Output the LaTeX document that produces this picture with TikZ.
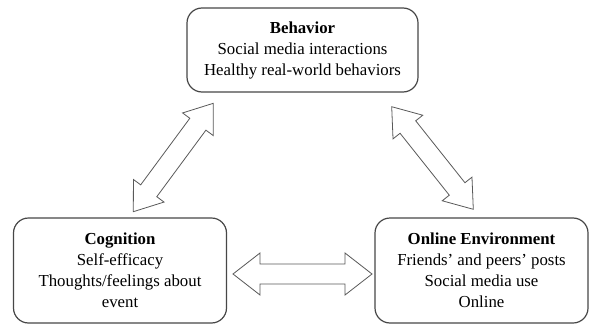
\documentclass[tikz,border=0pt]{standalone}
\usepackage{fontspec}
\setmainfont{Liberation Serif}
\usetikzlibrary{calc}

% outlined two-way block arrow between two named points
\newcommand\twowayarrow[2]{%
  \draw[blockarrow]
    (#1) -- ($(#1)!\hl!(#2)!\hw!90:(#2)$) -- ($(#1)!\hl!(#2)!\sw!90:(#2)$)
    -- ($(#2)!\hl!(#1)!\sw!-90:(#1)$) -- ($(#2)!\hl!(#1)!\hw!-90:(#1)$)
    -- (#2)
    -- ($(#2)!\hl!(#1)!\hw!90:(#1)$) -- ($(#2)!\hl!(#1)!\sw!90:(#1)$)
    -- ($(#1)!\hl!(#2)!\sw!-90:(#2)$) -- ($(#1)!\hl!(#2)!\hw!-90:(#2)$)
    -- cycle;}
\def\hl{26pt}
\def\hw{19pt}
\def\sw{10pt}

\tikzset{
  factor/.style={draw=black!72, line width=1.2pt, rounded corners=15pt,
    fill=white, align=center, inner sep=0pt,
    font=\fontsize{16.8}{21}\selectfont},
  blockarrow/.style={draw=black!65, line width=0.8pt, fill=white,
    line join=miter}
}

\begin{document}
\begin{tikzpicture}[x=1pt,y=-1pt]
  \useasboundingbox (0,0) rectangle (589,324);

  \node[factor, minimum width=231pt, minimum height=84pt] (behavior) at (302.5,50)
    {\textbf{Behavior}\\Social media interactions\\Healthy real-world behaviors};
  \node[factor, minimum width=213pt, minimum height=105pt] (cognition) at (120,270.5)
    {\textbf{Cognition}\\Self-efficacy\\Thoughts/feelings about\\event};
  \node[factor, minimum width=213pt, minimum height=105pt] (online) at (481.5,270.5)
    {\textbf{Online Environment}\\Friends' and peers' posts\\Social media use\\Online};

  % arrow end points
  \coordinate (bc1) at (213.3,103.3);
  \coordinate (bc2) at (133.3,211.7);
  \coordinate (bo1) at (391.7,106.7);
  \coordinate (bo2) at (473.3,209.3);
  \coordinate (co1) at (233,274);
  \coordinate (co2) at (372,274);

  \twowayarrow{bc1}{bc2}
  \twowayarrow{bo1}{bo2}
  \def\hl{27pt}\def\hw{21pt}
  \twowayarrow{co1}{co2}
\end{tikzpicture}
\end{document}
